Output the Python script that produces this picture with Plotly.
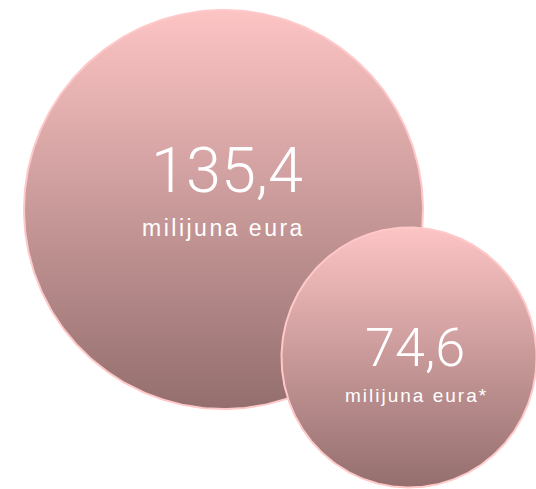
import numpy as np
import plotly.graph_objects as go

# ---- data ----
values = [135.4, 74.6]
units = ["milijuna eura", "milijuna eura*"]

# ---- layout constants (pixel space) ----
W, H = 536, 489
centers_x = [223.5, 409.0]
centers_y = [209.5, 357.5]
radii_x = [199.5, 127.5]
radii_y = [199.5, 130.0]
num_sizes = [63, 54]
unit_sizes = [23, 19]
unit_spacing = [2.5, 2.0]
num_offsets = [(3, -39), (6, -10.5)]
unit_offsets = [(0, 18.5), (7, 38)]

TOP = "#fdc4c4"
BOT = "#946e6e"
EDGE = "#ffc9c9"

fig = go.Figure()
t = np.linspace(0, 2 * np.pi, 361)
for i in range(len(values)):
    xs = centers_x[i] + radii_x[i] * np.cos(t)
    ys = centers_y[i] + radii_y[i] * np.sin(t)
    fig.add_trace(go.Scatter(
        x=xs, y=ys, mode="lines", fill="toself",
        line=dict(color=EDGE, width=2),
        fillgradient=dict(type="vertical", colorscale=[[0, BOT], [1, TOP]]),
        hoverinfo="skip", showlegend=False,
    ))

annotations = []
for i, v in enumerate(values):
    txt = f"{v:.1f}".replace(".", ",")
    annotations.append(dict(
        x=centers_x[i] + num_offsets[i][0], y=centers_y[i] + num_offsets[i][1],
        xref="x", yref="y", text=txt, showarrow=False,
        xanchor="center", yanchor="middle",
        font=dict(family="Roboto, Liberation Sans, sans-serif", size=num_sizes[i],
                  color="white", weight=300),
    ))
    annotations.append(dict(
        x=centers_x[i] + unit_offsets[i][0], y=centers_y[i] + unit_offsets[i][1],
        xref="x", yref="y",
        text=f'<span style="letter-spacing:{unit_spacing[i]}px">{units[i]}</span>',
        showarrow=False, xanchor="center", yanchor="middle",
        font=dict(family="Liberation Sans, Arial, sans-serif", size=unit_sizes[i], color="white"),
    ))

fig.update_layout(
    width=W, height=H,
    margin=dict(l=0, r=0, t=0, b=0),
    paper_bgcolor="white", plot_bgcolor="white",
    xaxis=dict(range=[0, W], visible=False, fixedrange=True),
    yaxis=dict(range=[H, 0], visible=False, fixedrange=True),
    annotations=annotations,
    showlegend=False,
)

fig.write_html(
    "out.html",
    config={"displayModeBar": False},
    post_script="document.body.style.margin='0';document.body.style.overflow='hidden';",
)
